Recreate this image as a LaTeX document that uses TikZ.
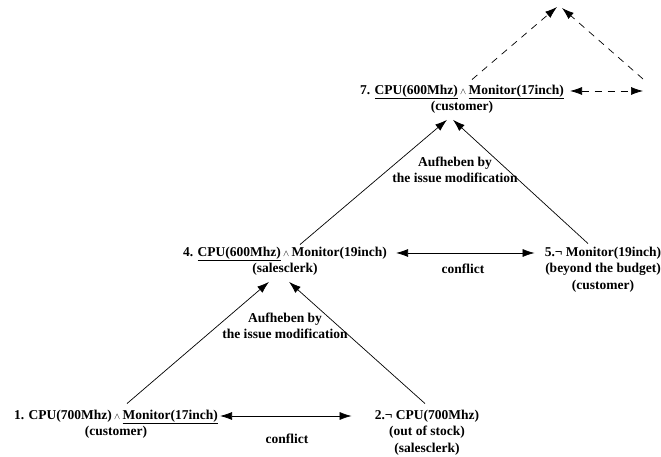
\documentclass[tikz,border=0pt]{standalone}
\usepackage{fontspec}
\setmainfont{Liberation Serif}
\usepackage{tikz}
\usetikzlibrary{arrows.meta, positioning, calc}

\tikzset{
  txt/.style={font=\bfseries\fontsize{13.5}{16}\selectfont, inner sep=0pt, text height=9.5pt, text depth=3pt},
  arr/.style={-{Latex[length=12pt,width=8pt]}, line width=0.7pt},
  dbl/.style={{Latex[length=12pt,width=8pt]}-{Latex[length=12pt,width=8pt]}, line width=0.7pt},
  dsh/.style={dash pattern=on 7pt off 6pt}
}
\newcommand{\andsym}{\,{\small$\wedge$}\,}

\begin{document}
\begin{tikzpicture}[x=1pt, y=1pt]
    \useasboundingbox (0,0) rectangle (661,457);

    % Statements
    \node[txt] (s1) at (116,41) {1. CPU(700Mhz)\andsym\underline{Monitor(17inch)}};
    \node[txt, below=3.5pt of s1] (s1a) {(customer)};

    \node[txt] (s2) at (427,41) {2.¬ CPU(700Mhz)};
    \node[txt, below=3.5pt of s2] (s2a) {(out of stock)};
    \node[txt, below=3.5pt of s2a] (s2b) {(salesclerk)};

    \node[txt] (s4) at (285,204) {4. \underline{CPU(600Mhz)}\andsym Monitor(19inch)};
    \node[txt, below=3.5pt of s4] (s4a) {(salesclerk)};

    \node[txt] (s5) at (603,204) {5.¬ Monitor(19inch)};
    \node[txt, below=3.5pt of s5] (s5a) {(beyond the budget)};
    \node[txt, below=3.5pt of s5a] (s5b) {(customer)};

    \node[txt] (s7) at (462,366) {7. \underline{CPU(600Mhz)}\andsym\underline{Monitor(17inch)}};
    \node[txt, below=3.5pt of s7] (s7a) {(customer)};

    % Labels
    \node[txt] (c1) at (287,17) {conflict};
    \node[txt] (c2) at (463,187) {conflict};
    \node[txt, align=center] (m1) at (285,122) {Aufheben by\\the issue modification};
    \node[txt, align=center] (m2) at (455,278) {Aufheben by\\the issue modification};

    % Conflicts
    \draw[dbl] ($(s1.east)+(2,0)$) -- ($(s2.west)+(-23,0)$);
    \draw[dbl] ($(s4.east)+(9,0)$) -- ($(s5.west)+(-10,0)$);

    % Modifications
    \draw[arr] ($(s1.north)+(11,6)$) -- ($(s4a.south)+(-16,-6)$);
    \draw[arr] ($(s2.north)+(-2,6)$) -- ($(s4a.south)+(4,-6)$);
    \draw[arr] ($(s4.north)+(15,2)$) -- ($(s7a.south)+(-15,-6)$);
    \draw[arr] ($(s5.north)+(-15,3)$) -- ($(s7a.south)+(-9,-6)$);

    % Open cycle
    \coordinate (top) at (560,450);
    \coordinate (rt) at (643,378);
    \draw[dbl, dsh] ($(s7.east)+(6,0)$) -- (rt |- s7.east);
    \draw[arr, dsh] ($(s7.north)+(10,5)$) -- ($(top)+(-3,0)$);
    \draw[arr, dsh] (rt) -- ($(top)+(2,-1)$);
\end{tikzpicture}
\end{document}
